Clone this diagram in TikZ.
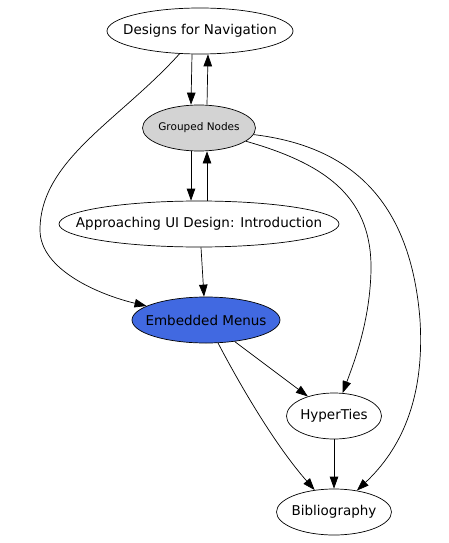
\documentclass[tikz,border=0pt]{standalone}
\usepackage{fontspec}
\setmainfont{DejaVu Sans}
\usepackage{xcolor}
\definecolor{groupgray}{HTML}{D3D3D3}
\definecolor{menublue}{HTML}{4169E1}
\usepackage{tikz}
\usetikzlibrary{positioning,arrows.meta,shapes.geometric}
% keep the text from widening the ellipse
\newcommand{\pagelabel}[1]{\makebox[0pt]{#1}}

\begin{document}
\begin{tikzpicture}[x=1pt, y=-1pt,
    page/.style={draw, ellipse, line width=0.7pt, inner sep=0pt,
                 minimum height=46pt, font=\fontsize{13.5}{15}\selectfont},
    grouppage/.style={page, fill=groupgray, font=\fontsize{10.5}{12}\selectfont},
    menupage/.style={page, fill=menublue},
    arr/.style={-{Triangle[length=12pt, width=8.5pt]}, line width=0.7pt}]
  \useasboundingbox (0,0) rectangle (449,543);

  \node[page, minimum width=186pt]      (dn)  at (200, 31)  {\pagelabel{Designs for Navigation}};
  \node[grouppage, minimum width=113pt] (gn)  at (199,128)  {\pagelabel{Grouped Nodes}};
  \node[page, minimum width=280pt]      (ap)  at (199,224)  {\pagelabel{Approaching UI Design: Introduction}};
  \node[menupage, minimum width=148pt]  (em)  at (206,320)  {\pagelabel{Embedded Menus}};
  \node[page, minimum width=95pt]       (ht)  at (334,416)  {\pagelabel{HyperTies}};
  \node[page, minimum width=115pt]      (bib) at (334,512)  {\pagelabel{Bibliography}};

  % paired links between the top nodes
  \draw[arr] ([xshift=-8pt]dn.south) -- ([xshift=-8pt]gn.north);
  \draw[arr] ([xshift=8pt]gn.north)  -- ([xshift=8pt]dn.south);
  \draw[arr] ([xshift=-8pt]gn.south) -- ([xshift=-8pt]ap.north);
  \draw[arr] ([xshift=8pt]ap.north)  -- ([xshift=8pt]gn.south);

  \draw[arr] ([xshift=2pt]ap.south) -- ([xshift=-2pt]em.north);
  \draw[arr] (dn) .. controls (120,120) and (40,160) .. (40,230)
                  .. controls (40,270) and (100,295) .. (em);
  \draw[arr] (gn) .. controls (330,165) and (372,200) .. (371,270)
                  .. controls (370,320) and (355,360) .. (ht);
  \draw[arr] (gn) .. controls (340,145) and (410,190) .. (420,320)
                  .. controls (425,400) and (400,450) .. (bib);
  \draw[arr] (em) -- (ht);
  \draw[arr] (em) .. controls (240,385) and (275,445) .. (bib);
  \draw[arr] (ht) -- (bib);
\end{tikzpicture}
\end{document}
